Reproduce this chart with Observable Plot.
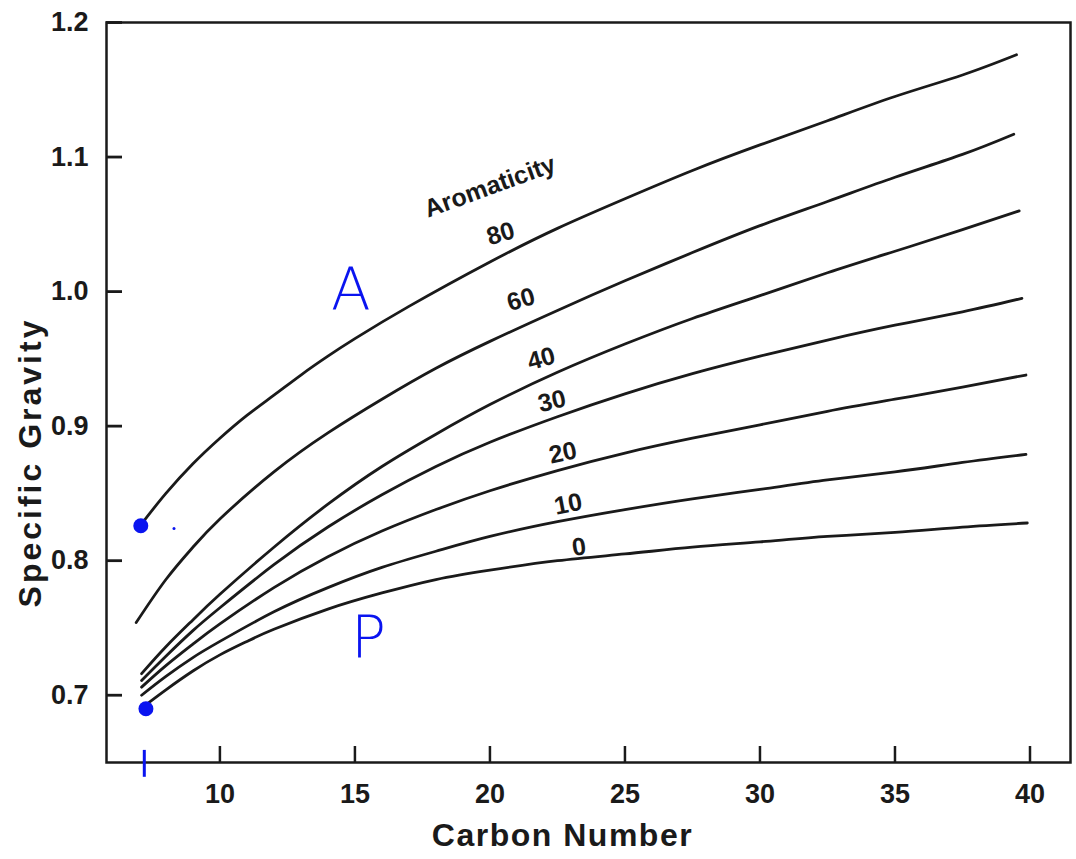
<!DOCTYPE html>
<html><head><meta charset="utf-8">
<script src="https://cdn.jsdelivr.net/npm/d3@7"></script>
<script src="https://cdn.jsdelivr.net/npm/@observablehq/plot@0.6"></script>
<style>body{margin:0;background:#fff}</style>
</head><body><div id="chart"></div>
<script>
// Series: Aromaticity curves (carbon number vs specific gravity)
const carbon80 = [7.2, 8, 9, 10, 11, 12, 13, 14, 15, 17, 20, 22.5, 25, 27.5, 30, 32.5, 35, 37.5, 39.5];
const sg80     = [0.830, 0.850, 0.872, 0.891, 0.908, 0.923, 0.938, 0.952, 0.965, 0.989, 1.022, 1.047, 1.069, 1.090, 1.109, 1.127, 1.145, 1.161, 1.176];
const carbon60 = [6.9, 8, 9, 10, 12, 14, 16, 18, 20, 22.5, 25, 27.5, 30, 32.5, 35, 37.5, 39.4];
const sg60     = [0.754, 0.786, 0.810, 0.831, 0.866, 0.895, 0.920, 0.943, 0.963, 0.986, 1.008, 1.029, 1.049, 1.067, 1.085, 1.102, 1.117];
const carbon40 = [7.1, 8, 9, 10, 12, 14, 16, 18, 20, 22.5, 25, 27.5, 30, 32.5, 35, 37.5, 39.6];
const sg40     = [0.716, 0.736, 0.756, 0.775, 0.810, 0.842, 0.870, 0.894, 0.916, 0.940, 0.961, 0.980, 0.997, 1.014, 1.030, 1.046, 1.060];
const carbon30 = [7.1, 8, 9, 10, 12, 14, 16, 18, 20, 22.5, 25, 27.5, 30, 32.5, 35, 37.5, 39.7];
const sg30     = [0.711, 0.729, 0.748, 0.765, 0.797, 0.825, 0.849, 0.870, 0.888, 0.907, 0.924, 0.939, 0.952, 0.964, 0.975, 0.985, 0.995];
const carbon20 = [7.1, 8, 9, 10, 12, 14, 16, 18, 20, 22.5, 25, 27.5, 30, 32.5, 35, 37.5, 39.85];
const sg20     = [0.706, 0.722, 0.738, 0.753, 0.780, 0.803, 0.822, 0.838, 0.852, 0.867, 0.880, 0.891, 0.901, 0.911, 0.920, 0.929, 0.938];
const carbon10 = [7.1, 8, 9, 10, 12, 14, 16, 18, 20, 22.5, 25, 27.5, 30, 32.5, 35, 37.5, 39.85];
const sg10     = [0.700, 0.714, 0.728, 0.740, 0.762, 0.780, 0.795, 0.807, 0.818, 0.829, 0.838, 0.846, 0.853, 0.860, 0.866, 0.873, 0.879];
const carbon0  = [7.2, 8, 9, 10, 11, 12, 14, 16, 18, 20, 22.5, 25, 27.5, 30, 32.5, 35, 37.5, 39.9];
const sg0      = [0.692, 0.704, 0.718, 0.730, 0.740, 0.749, 0.764, 0.776, 0.786, 0.793, 0.800, 0.805, 0.810, 0.814, 0.818, 0.821, 0.825, 0.828];

// Curve labels
const labelText    = ["Aromaticity", "80", "60", "40", "30", "20", "10", "0"];
const labelCarbon  = [20.0, 20.4, 21.15, 21.9, 22.3, 22.7, 22.9, 23.3];
const labelSG      = [1.078, 1.043, 0.994, 0.950, 0.9185, 0.880, 0.842, 0.810];
const labelRotate  = [-20, -17, -16, -15, -13, -12, -11, -8];

// Ticks
const xTicks = [10, 15, 20, 25, 30, 35, 40];
const yTicks = [0.7, 0.8, 0.9, 1.0, 1.1, 1.2];

// Handwritten blue annotations
const noteText   = ["A", "P"];
const noteCarbon = [14.85, 15.5];
const noteSG     = [1.0, 0.742];
const dotCarbon  = [7.07, 7.26];
const dotSG      = [0.826, 0.690];
const specCarbon = [8.3];
const specSG     = [0.824];
const markCarbon = [7.2];

const series = [
  [80, carbon80, sg80], [60, carbon60, sg60], [40, carbon40, sg40], [30, carbon30, sg30],
  [20, carbon20, sg20], [10, carbon10, sg10], [0, carbon0, sg0]
];
const rows = series.flatMap(([a, cs, vs]) => cs.map((c, i) => ({a, c, v: vs[i]})));
const labels = labelText.map((t, i) => ({t, c: labelCarbon[i], v: labelSG[i], r: labelRotate[i]}));
const notes = noteText.map((t, i) => ({t, c: noteCarbon[i], v: noteSG[i]}));
const dots = dotCarbon.map((c, i) => ({c, v: dotSG[i]}));
const specs = specCarbon.map((c, i) => ({c, v: specSG[i]}));

const xDomain = [5.8, 41.5];
const yDomain = [0.65, 1.2];
// inward tick length (~16px) as a share of each domain
const xTickLen = (xDomain[1] - xDomain[0]) * 16 / 964;
const yTickLen = (yDomain[1] - yDomain[0]) * 16 / 740;

const ink = "#1a1a1a";
const blue = "#0a14f0";
const font = "'Liberation Sans', Arial, Helvetica, sans-serif";

const chart = Plot.plot({
  width: 1076,
  height: 859,
  marginLeft: 106,
  marginRight: 6,
  marginTop: 22,
  marginBottom: 97,
  style: {fontFamily: font},
  x: {domain: xDomain},
  y: {domain: yDomain},
  marks: [
    Plot.frame({stroke: ink, strokeWidth: 2.5}),
    // tick labels
    Plot.axisY({ticks: yTicks, tickSize: 0, tickPadding: 18, tickFormat: d3.format(".1f"), label: null, fontSize: 27, fontWeight: "bold", fill: ink}),
    Plot.axisX({ticks: xTicks, tickSize: 0, tickPadding: 21, label: null, fontSize: 27, fontWeight: "bold", fill: ink}),
    // axis titles
    Plot.text(["Carbon Number"], {frameAnchor: "bottom", textAnchor: "middle", lineAnchor: "middle", dx: -26, dy: 73, fontSize: 32, fontWeight: "bold", fill: ink}),
    Plot.text(["Specific Gravity"], {frameAnchor: "left", textAnchor: "middle", lineAnchor: "middle", rotate: -90, dx: -76, dy: 70, fontSize: 32, fontWeight: "bold", fill: ink}),
    // curves
    Plot.line(rows, {x: "c", y: "v", z: "a", curve: "natural", stroke: ink, strokeWidth: 2.8}),
    // curve labels
    Plot.text(labels, {x: "c", y: "v", text: "t", rotate: "r", fontSize: 25, fontWeight: "bold", fill: ink}),
    // blue annotations
    Plot.dot(dots, {x: "c", y: "v", r: 7.5, fill: blue}),
    Plot.dot(specs, {x: "c", y: "v", r: 1.5, fill: blue}),
    Plot.ruleX(markCarbon, {y1: 0.659, y2: 0.639, stroke: blue, strokeWidth: 3}),
    Plot.text(notes, {x: "c", y: "v", text: "t", fontSize: 58, fill: blue, fontFamily: "'DejaVu Sans', sans-serif", fontWeight: 300}),
    // inward ticks (same rule pattern as the blue mark above), drawn last
    Plot.ruleX(xTicks, {y1: yDomain[0], y2: yDomain[0] + yTickLen, stroke: ink, strokeWidth: 2.5}),
    Plot.ruleY(yTicks, {x1: xDomain[0], x2: xDomain[0] + xTickLen, stroke: ink, strokeWidth: 2.8})
  ]
});
// slightly wider letter spacing, as in the scanned figure
d3.select(chart).selectAll("text").filter(function() {
  return this.textContent === "Carbon Number";
}).style("letter-spacing", "1.5px");
d3.select(chart).selectAll("text").filter(function() {
  return this.textContent === "Specific Gravity";
}).style("letter-spacing", "3px");
document.getElementById("chart").appendChild(chart);
</script>
</body></html>
